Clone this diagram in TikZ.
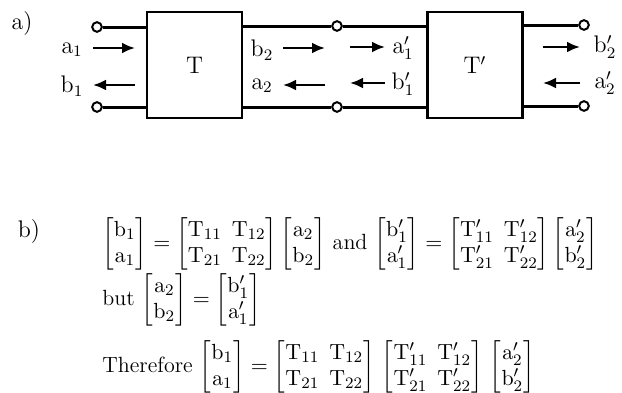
\documentclass[tikz,border=0pt]{standalone}
\usepackage{amsmath}
\usetikzlibrary{positioning,arrows.meta}

\newcommand{\colvec}[2]{\begin{bmatrix}\mathrm{#1}\\\mathrm{#2}\end{bmatrix}}
\newcommand{\tmat}[4]{\begin{bmatrix}\mathrm{#1}&\mathrm{#2}\\\mathrm{#3}&\mathrm{#4}\end{bmatrix}}

\tikzset{
  wire/.style={line width=1.5pt},
  blk/.style={draw,line width=1.2pt,minimum width=47.5pt,minimum height=53pt,inner sep=0pt,font=\fontsize{12}{14}\selectfont},
  term/.style={circle,draw,fill=white,line width=1pt,inner sep=0pt,minimum size=4.8pt},
  wave/.style={line width=1.2pt,-{Latex[length=6.5pt,width=5.5pt]}},
  lbl/.style={inner sep=0pt,font=\fontsize{12}{14}\selectfont},
  eqn/.style={anchor=west,inner sep=0pt,font=\fontsize{11}{13}\selectfont}
}

\begin{document}
\begin{tikzpicture}[x=0.5pt,y=-0.5pt]
  \useasboundingbox (0,0) rectangle (622,392);
  % --- a) two cascaded two-ports ---
  \node[lbl] (pa) at (22,24) {a)};
  \node[blk] (T) at (194.5,65) {T};
  \node[blk] (Tp) at (475,65) {T$'$};
  \node[term] (in1) at (97,27) {};
  \node[term] (in2) at (97,107) {};
  \node[term] (mid1) at (337,26) {};
  \node[term] (mid2) at (337,107) {};
  \node[term] (out1) at (584,25) {};
  \node[term] (out2) at (584,106) {};
  % wires
  \draw[wire] (in1) -- (in1 -| T.west);
  \draw[wire] (in2) -- (in2 -| T.west);
  \draw[wire] (T.east |- mid1) -- (mid1);
  \draw[wire] (mid1) -- (mid1 -| Tp.west);
  \draw[wire] (T.east |- mid2) -- (mid2);
  \draw[wire] (mid2) -- (mid2 -| Tp.west);
  \draw[wire] (Tp.east |- out1) -- (out1);
  \draw[wire] (Tp.east |- out2) -- (out2);
  % travelling waves
  \foreach \n/\xa/\xb/\y in {a1/93/135/48, b1/135/93/85, b2/283/325/48, a2/325/283/85,
      ap1/350/385/47, bp1/385/350/83, bp2/543/580/47, ap2/580/543/83} {
    \coordinate (\n s) at (\xa,\y);
    \coordinate (\n e) at (\xb,\y);
    \draw[wave] (\n s) -- (\n e);
  }
  \node[lbl] (la1) at (72,50) {$\mathrm{a}_1$};
  \node[lbl] (lb1) at (72,86) {$\mathrm{b}_1$};
  \node[lbl] (lb2) at (262,50) {$\mathrm{b}_2$};
  \node[lbl] (la2) at (262,86) {$\mathrm{a}_2$};
  \node[lbl] (lap1) at (403,48) {$\mathrm{a}'_1$};
  \node[lbl] (lbp1) at (403,84) {$\mathrm{b}'_1$};
  \node[lbl] (lbp2) at (605,47) {$\mathrm{b}'_2$};
  \node[lbl] (lap2) at (605,83) {$\mathrm{a}'_2$};
  % --- b) the chain rule ---
  \node[lbl] (pb) at (29,232) {b)};
  \begin{scope}[every node/.append style={execute at begin node=\setlength{\arraycolsep}{2.5pt}}]
  \node[eqn] (eq1) at (102,244) {$\colvec{b_1}{a_1}=\tmat{T_{11}}{T_{12}}{T_{21}}{T_{22}}\colvec{a_2}{b_2}$ and
    $\colvec{b'_1}{a'_1}=\tmat{T'_{11}}{T'_{12}}{T'_{21}}{T'_{22}}\colvec{a'_2}{b'_2}$};
  \node[eqn] (eq2) at (102,300) {but $\colvec{a_2}{b_2}=\colvec{b'_1}{a'_1}$};
  \node[eqn] (eq3) at (102,367) {Therefore $\colvec{b_1}{a_1}=\tmat{T_{11}}{T_{12}}{T_{21}}{T_{22}}\,\tmat{T'_{11}}{T'_{12}}{T'_{21}}{T'_{22}}\,\colvec{a'_2}{b'_2}$};
  \end{scope}
\end{tikzpicture}
\end{document}
